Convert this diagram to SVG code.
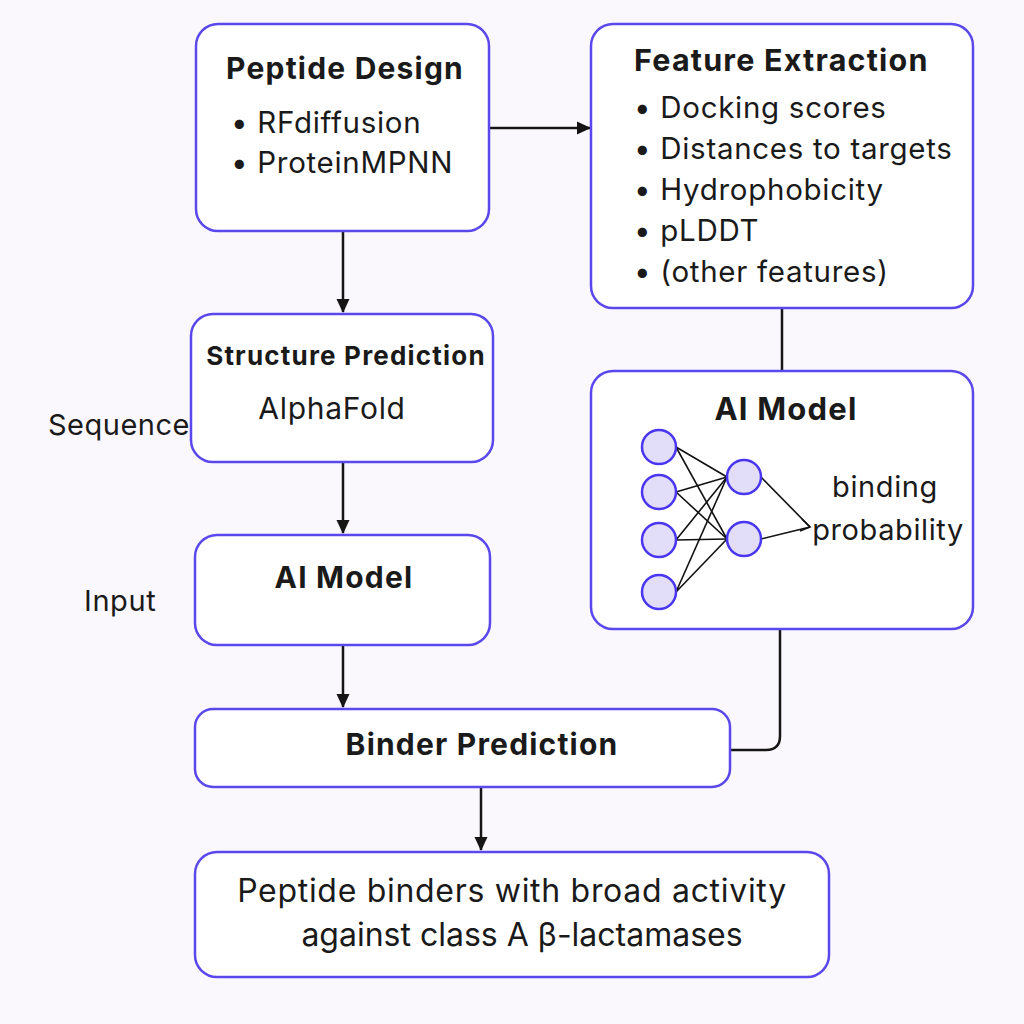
<svg xmlns="http://www.w3.org/2000/svg" width="1024" height="1024" viewBox="0 0 1024 1024">
<defs>
<style>
.box{fill:#ffffff;stroke:#5b48ec;stroke-width:2.5}
.t{font-family:Inter,"Noto Sans",sans-serif;fill:#1a1a1a}
.b{font-weight:700;letter-spacing:1.2px}
.r{letter-spacing:0.7px}
.edge{stroke:#151515;stroke-width:2.5;fill:none}
.nn{fill:#e2defa;stroke:#4a36f0;stroke-width:2.5}
.w{stroke:#111;stroke-width:1.6;fill:none}
</style>
<marker id="ah" markerWidth="14" markerHeight="14" refX="13" refY="7" orient="auto" markerUnits="userSpaceOnUse" viewBox="0 0 14 14">
<path d="M0,0.5 L14,7 L0,13.5 z" fill="#151515"/>
</marker>
</defs>
<rect width="1024" height="1024" fill="#faf8fd"/>
<g id="connectors">
<line class="edge" x1="489" y1="128" x2="590" y2="128" marker-end="url(#ah)"/>
<line class="edge" x1="343" y1="231" x2="343" y2="312" marker-end="url(#ah)"/>
<line class="edge" x1="782" y1="308" x2="782" y2="371"/>
<line class="edge" x1="343" y1="462" x2="343" y2="533" marker-end="url(#ah)"/>
<line class="edge" x1="343" y1="645" x2="343" y2="707" marker-end="url(#ah)"/>
<path class="edge" d="M780,629 V736 Q780,750 766,750 H730"/>
<line class="edge" x1="481" y1="787" x2="481" y2="850" marker-end="url(#ah)"/>
</g>
<g id="peptide-design">
<rect class="box" x="196" y="24" width="293" height="207" rx="22"/>
<text class="t b" x="345" y="79" font-size="30" text-anchor="middle">Peptide Design</text>
<text class="t r" x="231" y="133" font-size="29.5">• RFdiffusion</text>
<text class="t r" x="231" y="173" font-size="29.5">• ProteinMPNN</text>
</g>
<g id="feature-extraction">
<rect class="box" x="591" y="24" width="382" height="284" rx="22"/>
<text class="t b" x="634" y="71" font-size="30.5">Feature Extraction</text>
<text class="t r" x="634" y="118" font-size="29.5">• Docking scores</text>
<text class="t r" x="634" y="159" font-size="29.5">• Distances to targets</text>
<text class="t r" x="634" y="200" font-size="29.5">• Hydrophobicity</text>
<text class="t r" x="634" y="241" font-size="29.5">• pLDDT</text>
<text class="t r" x="634" y="282" font-size="29.5">• (other features)</text>
</g>
<g id="structure-prediction">
<rect class="box" x="191" y="314" width="302" height="148" rx="22"/>
<text class="t b" x="346" y="365" font-size="26" text-anchor="middle">Structure Prediction</text>
<text class="t r" x="332" y="419" font-size="30" text-anchor="middle">AlphaFold</text>
</g>
<text class="t" x="48" y="435" font-size="29" letter-spacing="0.5">Sequence</text>
<g id="ai-model-right">
<rect class="box" x="591" y="371" width="382" height="258" rx="22"/>
<text class="t b" x="786" y="420" font-size="31" text-anchor="middle" letter-spacing="1.3">AI Model</text>
<g>
<line class="w" x1="676" y1="447" x2="727" y2="477"/>
<line class="w" x1="676" y1="447" x2="727" y2="539"/>
<line class="w" x1="676" y1="492" x2="727" y2="477"/>
<line class="w" x1="676" y1="492" x2="727" y2="539"/>
<line class="w" x1="676" y1="540" x2="727" y2="477"/>
<line class="w" x1="676" y1="540" x2="727" y2="539"/>
<line class="w" x1="676" y1="592" x2="727" y2="477"/>
<line class="w" x1="676" y1="592" x2="727" y2="539"/>
<line class="w" x1="761" y1="477" x2="810" y2="527"/>
<line class="w" x1="761" y1="539" x2="810" y2="527"/>
<path class="w" d="M802,519 L810,527 L800,531"/>
<circle class="nn" cx="659" cy="447" r="17"/>
<circle class="nn" cx="659" cy="492" r="17"/>
<circle class="nn" cx="659" cy="540" r="17"/>
<circle class="nn" cx="659" cy="592" r="17"/>
<circle class="nn" cx="744" cy="477" r="17"/>
<circle class="nn" cx="744" cy="539" r="17"/>
</g>
<text class="t" x="885" y="497" font-size="29" text-anchor="middle" letter-spacing="0.6">binding</text>
<text class="t" x="888" y="540" font-size="29" text-anchor="middle" letter-spacing="0.6">probability</text>
</g>
<g id="ai-model-left">
<rect class="box" x="195" y="535" width="295" height="110" rx="22"/>
<text class="t b" x="344" y="588" font-size="30" text-anchor="middle" letter-spacing="1.3">AI Model</text>
</g>
<text class="t" x="84" y="611" font-size="29" letter-spacing="0.6">Input</text>
<g id="binder-prediction">
<rect class="box" x="195" y="709" width="535" height="78" rx="18"/>
<text class="t b" x="482" y="755" font-size="30" text-anchor="middle" letter-spacing="1.3">Binder Prediction</text>
</g>
<g id="final">
<rect class="box" x="195" y="852" width="634" height="125" rx="22"/>
<text class="t" x="512" y="902" font-size="32" text-anchor="middle" letter-spacing="0.7">Peptide binders with broad activity</text>
<text class="t" x="522" y="946" font-size="32" text-anchor="middle">against class A β-lactamases</text>
</g>
</svg>
